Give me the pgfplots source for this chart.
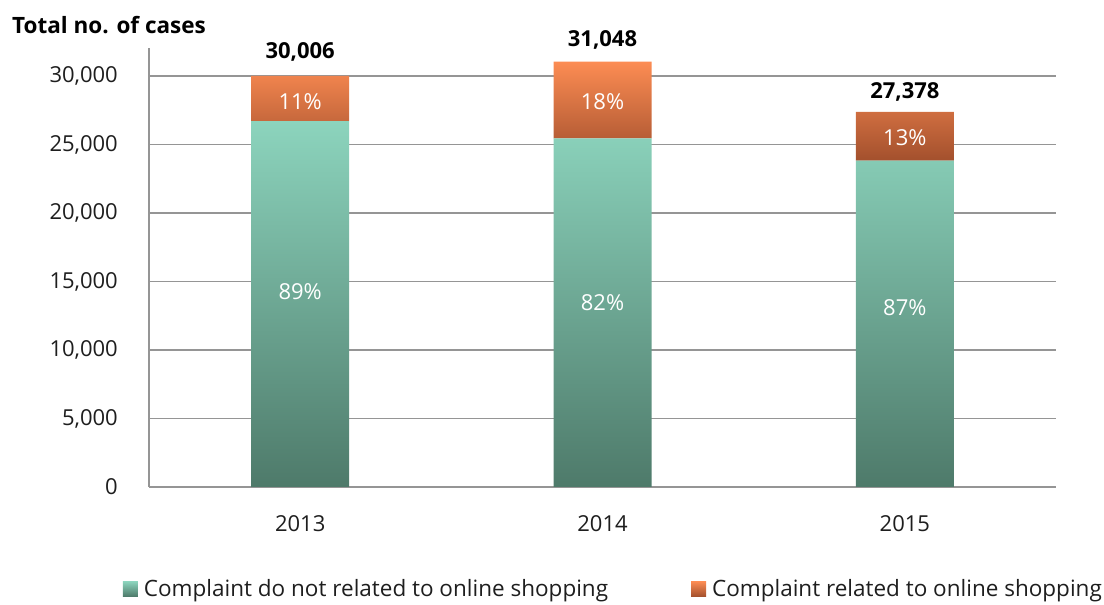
\documentclass[border=0pt]{standalone}
\usepackage{fontspec}
\setmainfont{Open Sans}
\usepackage{pgfplots}
\pgfplotsset{compat=1.18}

\definecolor{tealtop}{HTML}{8CD4BD}
\definecolor{tealbot}{HTML}{4E7A6A}
\definecolor{orgtop}{HTML}{FC8C53}
\definecolor{orgbot}{HTML}{A3502D}
\definecolor{gridc}{HTML}{959595}
\definecolor{txt}{HTML}{1E1E1E}

\newcommand{\lbl}{\fontsize{22}{26}\selectfont}
\newcommand{\leg}{\fontsize{22.5}{26}\selectfont}

\begin{document}
\begin{tikzpicture}
\useasboundingbox (-149pt,-118pt) rectangle (955pt,487pt);
\begin{axis}[
  at={(0,0)}, anchor=south west,
  scale only axis, width=907pt, height=439pt,
  xmin=-0.5, xmax=2.5, ymin=0, ymax=32050,
  ybar stacked, bar width=98pt,
  xtick={0,1,2}, xticklabels={2013,2014,2015},
  ytick={0,5000,10000,15000,20000,25000,30000},
  yticklabels={0,{5,000},{10,000},{15,000},{20,000},{25,000},{30,000}},
  scaled y ticks=false,
  ymajorgrids, grid style={draw=gridc, line width=1.5pt},
  axis x line*=bottom, axis y line*=left,
  axis line style={draw=gridc, line width=1.5pt, -},
  major tick length=0pt, tick style={draw=none},
  yticklabel style={font=\lbl, text=txt, anchor=east, inner sep=0pt, xshift=-31pt},
  xticklabel style={font=\lbl, text=txt, anchor=north, inner sep=0pt, yshift=-28pt},
  legend columns=2,
  legend style={at={(axis description cs:-0.0287,-0.2323)}, anchor=west,
    draw=none, fill=none, inner sep=0pt, outer sep=0pt, font=\leg, text=txt,
    nodes={inner xsep=6pt, inner ysep=0pt},
    /tikz/every even column/.append style={column sep=77pt}},
]
\addplot[draw=none, top color=tealtop, bottom color=tealbot,
  legend image code/.code={\fill[top color=tealtop, bottom color=tealbot] (0pt,-7.5pt) rectangle (15pt,7.5pt);}]
  coordinates {(0,26705) (1,25459) (2,23819)};
\addlegendentry{Complaint do not related to online shopping}
\addplot[draw=none, top color=orgtop, bottom color=orgbot,
  legend image code/.code={\fill[top color=orgtop, bottom color=orgbot] (0pt,-7.5pt) rectangle (15pt,7.5pt);}]
  coordinates {(0,3301) (1,5589) (2,3559)};
\addlegendentry{Complaint related to online shopping}

% label anchors, drawn after the axis so they sit on top of the bars
\coordinate (a0) at (axis cs:0,14265);
\coordinate (a1) at (axis cs:1,13460);
\coordinate (a2) at (axis cs:2,13094);
\coordinate (b0) at (axis cs:0,28164);
\coordinate (b1) at (axis cs:1,28164);
\coordinate (b2) at (axis cs:2,25530);
\coordinate (t0) at (axis cs:0,30006);
\coordinate (t1) at (axis cs:1,31048);
\coordinate (t2) at (axis cs:2,27378);
\end{axis}
\node[font=\lbl, text=white] at (a0) {89\%};
\node[font=\lbl, text=white] at (a1) {82\%};
\node[font=\lbl, text=white] at (a2) {87\%};
\node[font=\lbl, text=white] at (b0) {11\%};
\node[font=\lbl, text=white] at (b1) {18\%};
\node[font=\lbl, text=white] at (b2) {13\%};
\node[font=\lbl\bfseries, text=black, anchor=base, yshift=17pt] at (t0) {30,006};
\node[font=\lbl\bfseries, text=black, anchor=base, yshift=15pt] at (t1) {31,048};
\node[font=\lbl\bfseries, text=black, anchor=base, yshift=13pt] at (t2) {27,378};
\node[font=\fontsize{22.5}{26}\selectfont\bfseries, text=black, anchor=west, inner sep=0pt] at (-137pt,462pt) {Total no. of cases};
\end{tikzpicture}
\end{document}
